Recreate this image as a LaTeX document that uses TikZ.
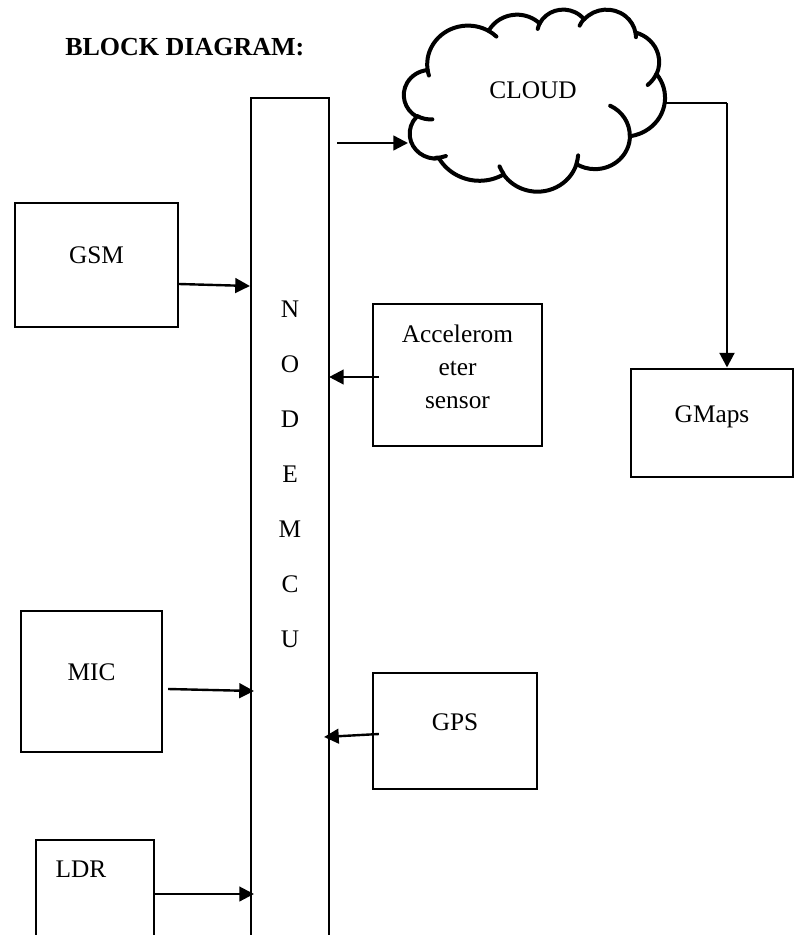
\documentclass[tikz,border=0pt]{standalone}
\usepackage{fontspec}
\setmainfont{Liberation Serif}
\usetikzlibrary{arrows.meta,calc}
\begin{document}
\begin{tikzpicture}[x=0.75pt,y=-0.75pt,
  box/.style={draw,line width=1.6pt,rectangle,inner sep=0pt},
  lbl/.style={font=\fontsize{19}{24.75}\selectfont,inner sep=0pt,anchor=base},
  arr/.style={line width=1.8pt,-{Triangle[length=11pt,width=11pt]}},
  warc/.style n args={4}{start angle={atan2(#1*sin(#3),#2*cos(#3))},
    delta angle={mod(atan2(#1*sin(#3+#4),#2*cos(#3+#4))-atan2(#1*sin(#3),#2*cos(#3))+720,360)},
    x radius=#1, y radius=#2},
  cloudline/.style={line width=3pt,line join=round,line cap=round}]
\clip (0,0) rectangle (796,935);
% title
\node[font=\fontsize{19.5}{23}\selectfont\bfseries,inner sep=0pt,anchor=base west] (title) at (65,55) {BLOCK DIAGRAM:};
% boxes
\node[box,minimum width=78*0.75pt,minimum height=852*0.75pt] (mcu) at (290,524) {};
\node[box,minimum width=163*0.75pt,minimum height=124*0.75pt] (gsm) at (96.5,265) {};
\node[box,minimum width=169*0.75pt,minimum height=142*0.75pt] (acc) at (457.5,375) {};
\node[box,line width=2.2pt,minimum width=162*0.75pt,minimum height=108*0.75pt] (gmaps) at (712,423) {};
\node[box,minimum width=141*0.75pt,minimum height=141*0.75pt] (mic) at (91.5,681.5) {};
\node[box,minimum width=164*0.75pt,minimum height=116*0.75pt] (gps) at (455,731) {};
\node[box,minimum width=118*0.75pt,minimum height=110*0.75pt] (ldr) at (95,895) {};
% cloud (outline + inner hooks)
\begin{scope}[shift={(404,9)},x=0.453pt,y=-0.316pt]
\draw[cloudline] (39.00,143.70)
  arc[warc={67.53}{91.90}{-190.48748}{123.78053}]
  arc[warc={53.33}{72.67}{-144.10238}{89.94523}]
  arc[warc={43.65}{59.45}{-145.80792}{99.72302}]
  arc[warc={48.57}{65.95}{-130.98607}{117.24173}]
  arc[warc={53.33}{72.73}{-78.70888}{109.02692}]
  arc[warc={67.75}{92.20}{-46.26725}{130.269}]
  arc[warc={57.85}{78.67}{0.62502}{114.03333}]
  arc[warc={67.52}{92.15}{22.4516}{115.17255}]
  arc[warc={77.20}{105.43}{66.24263}{75.71102}]
  arc[warc={43.60}{59.18}{-274.94208}{146.73557}]
  arc[warc={43.45}{59.45}{-246.8285}{152.51885}]
  -- cycle;
\draw[cloudline]
  (46.93,261.77) arc[warc={43.45}{59.45}{86.742}{26.4295}]
  (69.28,348.99) arc[warc={43.60}{59.18}{73.61047}{17.1352}]
  (164.78,390.90) arc[warc={67.52}{92.15}{137.62415}{14.0811}]
  (288.27,347.51) arc[warc={67.52}{92.15}{6.45327}{15.99835}]
  (341.29,229.54) arc[warc={57.85}{78.67}{-70.29235}{70.91737}]
  (417.98,153.54) arc[warc={53.33}{72.73}{30.31803}{27.7515}]
  (383.24,54.26) arc[warc={48.57}{65.95}{-13.74433}{14.8589}]
  (290.78,39.52) arc[warc={48.57}{65.95}{-149.18145}{18.19537}]
  (221.41,47.20) arc[warc={43.65}{59.45}{-163.49427}{17.68635}]
  (140.00,51.92) arc[warc={67.53}{91.90}{-66.70695}{12.31935}]
  (41.27,157.89) arc[warc={67.53}{91.90}{157.65435}{11.85817}];
\end{scope}
\coordinate (cloudeast) at (665,103);
\coordinate (cin) at (408,143);
% texts
\node[lbl] (gsmtext) at (96.5,263) {GSM};
\node[lbl] (gmapstext) at (712,422) {GMaps};
\node[lbl] (gpstext) at (455,730) {GPS};
\node[lbl] (mictext) at (91.5,680) {MIC};
\node[lbl] (ldrtext) at (81,877) {LDR};
\node[lbl] (cloudtext) at (533,98) {CLOUD};
\node[lbl,anchor=center,align=center] (acctext) at (457.5,366.5) {Accelerom\\eter\\sensor};
\node[font=\fontsize{19}{41.25}\selectfont,inner sep=0pt,align=center] (mcutext) at (290,474) {N\\O\\D\\E\\M\\C\\U};
% connectors
\draw[arr] (gsm.east |- 0,284) -- (mcu.west |- 0,286);
\draw[arr] ($(acc.west |- 0,377)+(7,0)$) -- ($(mcu.east |- 0,377)+(-1,0)$);
\draw[arr] ($(mic.east |- 0,689)+(5,0)$) -- ($(mcu.west |- 0,691)+(4,0)$);
\draw[arr] ($(gps.west |- 0,734)+(7,0)$) -- ($(mcu.east |- 0,737)+(-6,0)$);
\draw[arr] (ldr.east |- 0,894) -- ($(mcu.west |- 0,894)+(4,0)$);
\draw[arr] ($(mcu.east |- cin)+(7,0)$) -- (cin);
\coordinate (corner) at ($(gmaps.north |- cloudeast)+(15,0)$);
\draw[line width=1pt] (cloudeast) -- (corner);
\draw[line width=2.2pt,-{Triangle[length=11pt,width=11pt]}] (corner) -- ($(gmaps.north)+(15,0)$);
\end{tikzpicture}
\end{document}
